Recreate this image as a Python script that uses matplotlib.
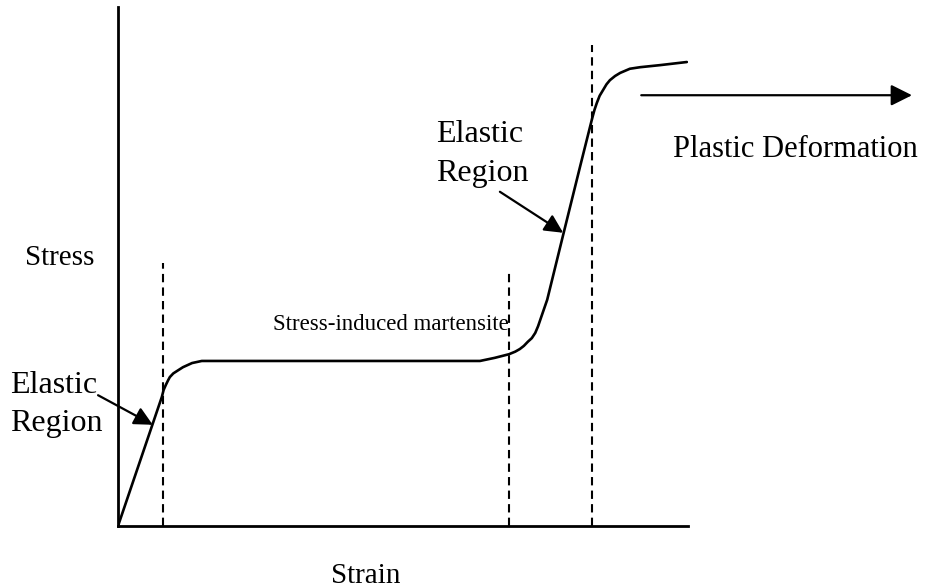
import matplotlib
matplotlib.use("Agg")
import matplotlib.pyplot as plt

plt.rcParams['font.family'] = ['Liberation Serif', 'DejaVu Serif']

# Schematic stress-strain curve (normalised units, 0..1)
strain = [0.0, 0.077, 0.080, 0.084, 0.088, 0.091, 0.097, 0.104, 0.114,
          0.130, 0.147, 0.635, 0.661, 0.686, 0.697, 0.705, 0.712, 0.719,
          0.726, 0.732, 0.737, 0.742, 0.753, 0.781, 0.811, 0.832, 0.836,
          0.840, 0.845, 0.851, 0.857, 0.863, 0.872, 0.881, 0.898, 0.916,
          0.951, 0.998]
stress = [0.0, 0.249, 0.262, 0.272, 0.281, 0.287, 0.294, 0.299, 0.306,
          0.314, 0.318, 0.318, 0.324, 0.331, 0.336, 0.341, 0.347, 0.355,
          0.362, 0.372, 0.385, 0.401, 0.436, 0.561, 0.694, 0.786, 0.802,
          0.815, 0.829, 0.840, 0.851, 0.859, 0.867, 0.873, 0.881, 0.884,
          0.888, 0.894]

# Region boundaries (dashed lines): strain position and top of the line
bound_strain = [0.079, 0.686, 0.832]
bound_top = [0.507, 0.493, 0.927]

fig = plt.figure(figsize=(9.43, 5.88), dpi=100)
ax = fig.add_axes([118 / 943, 62 / 588, 570 / 943, 519 / 588])

ax.plot(strain, stress, color='black', lw=1.9, solid_capstyle='round',
        solid_joinstyle='round')

for xb, yt in zip(bound_strain, bound_top):
    ax.plot([xb, xb], [0, yt], color='black', lw=1.5, linestyle=(0, (4, 2.5)))

ax.set_xlim(0, 1)
ax.set_ylim(0, 1)
ax.set_xticks([])
ax.set_yticks([])
for s in ['top', 'right']:
    ax.spines[s].set_visible(False)
for s in ['left', 'bottom']:
    ax.spines[s].set_linewidth(2.0)
    ax.spines[s].set_color('black')

# labels
ax.text(-0.163, 0.503, 'Stress', fontsize=21, ha='left', va='baseline')
ax.text(0.435, -0.109, 'Strain', fontsize=21, ha='center', va='baseline')
ax.text(0.272, 0.378, 'Stress-induced martensite', fontsize=16.5,
        ha='left', va='baseline')

arrow = dict(arrowstyle='-|>', color='black', lw=1.6,
             mutation_scale=28, shrinkA=0, shrinkB=0)

# lower elastic region
ax.text(-0.189, 0.256, 'Elastic', fontsize=23, ha='left', va='baseline')
ax.text(-0.189, 0.183, 'Region', fontsize=23, ha='left', va='baseline')
ax.annotate('', xy=(0.061, 0.195), xytext=(-0.035, 0.252),
            arrowprops=arrow, annotation_clip=False)

# upper elastic region
ax.text(0.558, 0.740, 'Elastic', fontsize=23, ha='left', va='baseline')
ax.text(0.558, 0.665, 'Region', fontsize=23, ha='left', va='baseline')
ax.annotate('', xy=(0.781, 0.565), xytext=(0.670, 0.644),
            arrowprops=arrow, annotation_clip=False)

# plastic deformation
ax.annotate('', xy=(1.393, 0.830), xytext=(0.918, 0.830),
            arrowprops=dict(arrow, mutation_scale=32), annotation_clip=False)
ax.text(0.974, 0.711, 'Plastic Deformation', fontsize=22, ha='left',
        va='baseline')

fig.savefig('out.png', dpi=100)
